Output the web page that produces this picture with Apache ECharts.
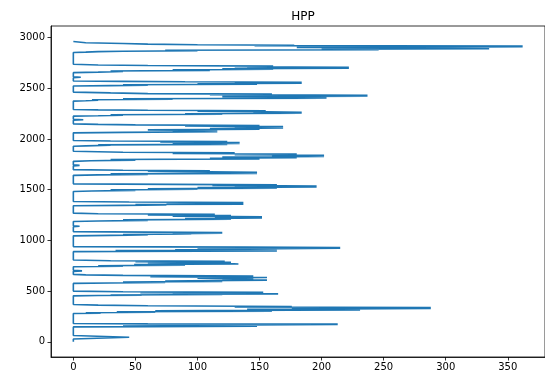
<!DOCTYPE html>
<html>
<head>
<meta charset="utf-8">
<script src="https://cdn.jsdelivr.net/npm/echarts@6/dist/echarts.min.js"></script>
<style>
  html, body { margin: 0; padding: 0; background: #fff; }
  #main { width: 545px; height: 379px; }
</style>
</head>
<body>
<div id="main"></div>
<script>
var hppPoints = [
  [0, 0], [0, 28], [45, 45], [0, 62],
  [0, 147], [60, 150], [148, 153], [40, 156], [110, 160], [93, 163], [213, 168], [120, 172], [213, 174], [60, 177], [0, 180],
  [0, 279], [22, 283], [10, 287], [66, 292], [35, 297], [160, 302], [66, 306], [231, 315], [140, 320], [288, 328], [176, 334], [288, 338], [130, 343], [176, 348], [60, 355], [20, 362], [0, 368],
  [0, 453], [20, 456], [55, 459], [30, 462], [120, 466], [80, 469], [165, 473], [119, 477], [153, 481], [54, 485], [153, 488], [40, 493], [0, 500],
  [0, 576], [30, 580], [74, 586], [40, 590], [120, 596], [74, 600], [156, 608], [120, 614], [145, 620], [100, 628], [156, 634], [62, 642], [145, 648], [40, 655], [10, 660], [0, 665],
  [0, 695], [7, 700], [0, 705],
  [0, 740], [40, 745], [20, 750], [90, 756], [49, 762], [133, 768], [122, 774], [60, 779], [127, 784], [50, 790], [122, 795], [30, 800], [0, 807],
  [0, 889], [40, 892], [164, 896], [34, 900], [130, 904], [82, 908], [164, 912], [140, 917], [215, 922], [100, 926], [215, 930], [140, 934], [0, 939],
  [0, 1045], [30, 1050], [60, 1055], [40, 1059], [95, 1063], [80, 1067], [120, 1071], [95, 1075], [120, 1078], [60, 1082], [0, 1087],
  [0, 1135], [5, 1140], [0, 1145],
  [0, 1186], [20, 1192], [60, 1198], [40, 1203], [127, 1209], [90, 1215], [152, 1221], [114, 1228], [152, 1234], [80, 1240], [127, 1246], [60, 1252], [114, 1258], [20, 1263], [0, 1269],
  [0, 1342], [40, 1346], [75, 1350], [50, 1354], [137, 1358], [100, 1362], [128, 1367], [75, 1371], [137, 1374], [45, 1379], [0, 1384],
  [0, 1483], [15, 1488], [50, 1494], [30, 1499], [100, 1505], [60, 1510], [164, 1516], [100, 1521], [196, 1527], [130, 1532], [196, 1537], [112, 1543], [164, 1548], [80, 1553], [0, 1558],
  [0, 1642], [20, 1646], [60, 1651], [30, 1656], [148, 1661], [100, 1666], [148, 1671], [110, 1676], [60, 1682], [110, 1687], [40, 1692], [0, 1698],
  [0, 1735], [5, 1740], [0, 1745],
  [0, 1780], [14, 1786], [50, 1792], [30, 1798], [150, 1804], [110, 1810], [180, 1816], [120, 1822], [202, 1828], [160, 1834], [202, 1840], [130, 1846], [180, 1852], [80, 1858], [130, 1864], [40, 1870], [0, 1879],
  [0, 1929], [10, 1933], [30, 1938], [20, 1942], [124, 1947], [80, 1952], [134, 1957], [100, 1962], [134, 1966], [70, 1971], [124, 1976], [30, 1980], [0, 1985],
  [0, 2061], [40, 2066], [116, 2072], [80, 2078], [116, 2084], [60, 2090], [150, 2097], [110, 2103], [169, 2110], [130, 2116], [169, 2122], [90, 2128], [150, 2134], [50, 2140], [20, 2145], [0, 2150],
  [0, 2185], [8, 2190], [0, 2195],
  [0, 2226], [20, 2230], [40, 2235], [30, 2240], [120, 2245], [90, 2250], [184, 2255], [145, 2260], [184, 2264], [155, 2269], [100, 2274], [155, 2279], [60, 2284], [20, 2288], [0, 2292],
  [0, 2374], [10, 2378], [20, 2383], [15, 2388], [80, 2393], [40, 2398], [204, 2403], [150, 2408], [204, 2413], [120, 2418], [237, 2423], [150, 2428], [237, 2432], [110, 2438], [160, 2443], [60, 2448], [30, 2455], [0, 2463],
  [0, 2523], [30, 2527], [60, 2532], [40, 2536], [148, 2541], [100, 2546], [184, 2551], [130, 2556], [184, 2560], [90, 2565], [40, 2569], [0, 2572],
  [0, 2605], [6, 2610], [0, 2615],
  [0, 2655], [20, 2660], [40, 2666], [30, 2671], [110, 2677], [80, 2682], [161, 2688], [120, 2693], [222, 2698], [140, 2703], [222, 2707], [130, 2713], [161, 2719], [60, 2725], [20, 2731], [0, 2738],
  [0, 2853], [10, 2857], [20, 2862], [40, 2866], [100, 2871], [74, 2876], [246, 2881], [200, 2886], [335, 2891], [237, 2895], [335, 2899], [180, 2903], [362, 2908], [246, 2912], [362, 2916], [146, 2921], [178, 2925], [100, 2930], [60, 2936], [40, 2942], [10, 2950], [0, 2962]
];
var xTicks = [0, 50, 100, 150, 200, 250, 300, 350];
var yTicks = [0, 500, 1000, 1500, 2000, 2500, 3000];

var myChart = echarts.init(document.getElementById("main"));

var labelStyle = {
  color: "#000",
  fontFamily: "DejaVu Sans",
  fontSize: 10,
  formatter: function (v) {
    return String(v);
  },
};

var option = {
  animation: false,
  title: {
    text: "HPP",
    left: 298,
    top: 6,
    textAlign: "center",
    textStyle: {
      color: "#000",
      fontFamily: "DejaVu Sans",
      fontSize: 12,
      fontWeight: "normal",
    },
  },
  grid: {
    left: 51,
    right: -6,
    top: 26,
    bottom: 22,
    show: true,
    borderColor: "#000",
    borderWidth: 0.8,
  },
  xAxis: {
    type: "value",
    min: -18,
    max: 380,
    axisLine: { show: true, onZero: false, lineStyle: { color: "#000", width: 0.8 } },
    axisTick: {
      show: true,
      length: 3.5,
      lineStyle: { color: "#000", width: 0.8 },
      customValues: xTicks,
    },
    axisLabel: Object.assign({ margin: 5, customValues: xTicks }, labelStyle),
    splitLine: { show: false },
  },
  yAxis: {
    type: "value",
    min: -150,
    max: 3115,
    axisLine: { show: true, onZero: false, lineStyle: { color: "#000", width: 0.8 } },
    axisTick: {
      show: true,
      length: 3.5,
      lineStyle: { color: "#000", width: 0.8 },
      customValues: yTicks,
    },
    axisLabel: Object.assign({ margin: 6, customValues: yTicks }, labelStyle),
    splitLine: { show: false },
  },
  series: [
    {
      type: "line",
      data: hppPoints,
      showSymbol: false,
      symbol: "none",
      lineStyle: { color: "#1f77b4", width: 1.6 },
    },
  ],
};
option && myChart.setOption(option);
</script>
</body>
</html>
